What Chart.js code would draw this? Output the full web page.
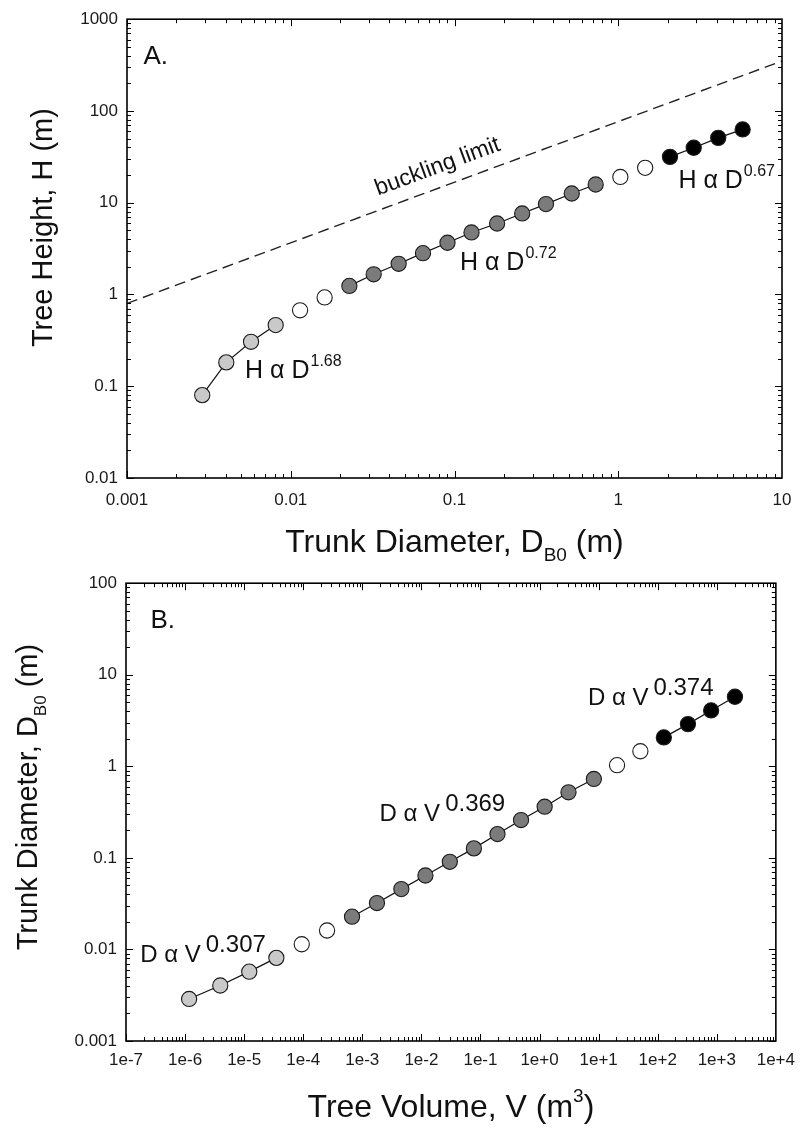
<!DOCTYPE html>
<html>
<head>
<meta charset="utf-8">
<script src="https://cdn.jsdelivr.net/npm/chart.js@4/dist/chart.umd.min.js"></script>
<style>
  html, body { margin: 0; padding: 0; background: #fff; }
  #wrap { position: relative; width: 804px; height: 1128px; }
  .panel { position: absolute; left: 0; width: 804px; height: 564px; }
  #panelA { top: 0; }
  #panelB { top: 564px; }
</style>
</head>
<body>
<div id="wrap">
  <div class="panel" id="panelA"><canvas id="chartA"></canvas></div>
  <div class="panel" id="panelB"><canvas id="chartB"></canvas></div>
</div>
<script>
// Trunk base diameter (m) along the growth trajectory
const diameter = [0.00288, 0.00404, 0.00572, 0.00809, 0.0114, 0.0161, 0.0228, 0.0321,
  0.0456, 0.0642, 0.0906, 0.127, 0.182, 0.259, 0.362, 0.520, 0.728, 1.03, 1.46,
  2.07, 2.89, 4.08, 5.75];
// Tree height (m)
const height = [0.080, 0.182, 0.305, 0.464, 0.672, 0.929, 1.24, 1.66, 2.16, 2.82, 3.66,
  4.74, 5.94, 7.64, 9.66, 12.6, 15.8, 19.1, 24.0, 31.6, 39.7, 50.9, 62.9];
// Tree volume (m^3)
const volume = [1.17e-6, 3.94e-6, 1.22e-5, 3.51e-5, 9.43e-5, 2.53e-4, 6.70e-4, 1.77e-3,
  4.58e-3, 1.17e-2, 3.03e-2, 7.74e-2, 0.194, 0.486, 1.22, 3.09, 8.30, 20.5, 50.9,
  127, 325, 802, 2030];
// Growth stages: [first index, end index), fitted with a line or not
const stages = [
  { from: 0, to: 4, fill: '#c9c9c9', fitted: true },
  { from: 4, to: 6, fill: '#ffffff', fitted: false },
  { from: 6, to: 17, fill: '#7b7b7b', fitted: true },
  { from: 17, to: 19, fill: '#ffffff', fitted: false },
  { from: 19, to: 23, fill: '#000000', fitted: true }
];
// Elastic buckling limit of height against diameter
const bucklingD = [0.001, 10];
const bucklingH = [0.8, 350];

// Axis ranges (decades)
const rangeDiamA = [0.001, 10];
const rangeHeight = [0.01, 1000];
const rangeVolume = [1e-7, 1e4];
const rangeDiamB = [0.001, 100];

const FONT = '"Liberation Sans", Arial, Helvetica, sans-serif';

function decades(min, max) {
  const out = [];
  for (let e = Math.round(Math.log10(min)); e <= Math.round(Math.log10(max)); e++) {
    out.push(Number('1e' + e));
  }
  return out;
}
function plainLabel(v) {
  const e = Math.round(Math.log10(v));
  return e < 0 ? v.toFixed(-e) : String(Math.round(v));
}
function expLabel(v) {
  const e = Math.round(Math.log10(v));
  return '1e' + (e < 0 ? '-' : '+') + Math.abs(e);
}

function drawParts(ctx, parts, x, y, align) {
  const widths = parts.map(p => {
    ctx.font = (p.weight || '') + ' ' + p.size + 'px ' + FONT;
    return ctx.measureText(p.text).width;
  });
  const total = widths.reduce((a, w, i) => a + w + (parts[i].gap || 0), 0);
  let cx = align === 'center' ? x - total / 2 : x;
  parts.forEach((p, i) => {
    ctx.font = (p.weight || '') + ' ' + p.size + 'px ' + FONT;
    cx += (p.gap || 0);
    ctx.fillText(p.text, cx, y + (p.dy || 0));
    cx += widths[i];
  });
}

// Frame, inward major/minor ticks, axis titles and in-plot labels
const decor = {
  id: 'decor',
  afterDatasetsDraw(chart, args, opts) {
    const ctx = chart.ctx;
    const { left, right, top, bottom } = chart.chartArea;
    const sx = chart.scales.x, sy = chart.scales.y;
    ctx.save();
    ctx.strokeStyle = '#000';
    ctx.lineWidth = 1;
    ctx.beginPath();
    const xmin = Math.round(Math.log10(sx.min)), xmax = Math.round(Math.log10(sx.max));
    for (let e = xmin; e < xmax; e++) {
      for (let m = 1; m <= 9; m++) {
        const v = m * Math.pow(10, e);
        const px = Math.round(sx.getPixelForValue(v)) + 0.5;
        const len = m === 1 ? opts.major : opts.minor;
        ctx.moveTo(px, bottom); ctx.lineTo(px, bottom - len);
        ctx.moveTo(px, top); ctx.lineTo(px, top + len);
      }
    }
    const ymin = Math.round(Math.log10(sy.min)), ymax = Math.round(Math.log10(sy.max));
    for (let e = ymin; e < ymax; e++) {
      for (let m = 1; m <= 9; m++) {
        const v = m * Math.pow(10, e);
        const py = Math.round(sy.getPixelForValue(v)) + 0.5;
        const len = m === 1 ? opts.major : opts.minor;
        ctx.moveTo(left, py); ctx.lineTo(left + len, py);
        ctx.moveTo(right, py); ctx.lineTo(right - len, py);
      }
    }
    ctx.stroke();
    ctx.lineWidth = 1.6;
    ctx.strokeRect(left, top, right - left, bottom - top);

    ctx.fillStyle = '#111';
    ctx.textBaseline = 'alphabetic';
    // x title
    drawParts(ctx, opts.xTitle, (left + right) / 2, bottom + opts.xTitleOffset, 'center');
    // y title
    ctx.save();
    ctx.translate(opts.yTitleX, (top + bottom) / 2 + opts.yTitleShift);
    ctx.rotate(-Math.PI / 2);
    drawParts(ctx, opts.yTitle, 0, 0, 'center');
    ctx.restore();
    // labels placed at data coordinates
    (opts.labels || []).forEach(l => {
      const px = sx.getPixelForValue(l.x), py = sy.getPixelForValue(l.y);
      ctx.save();
      ctx.translate(px, py);
      if (l.alongLine !== undefined) {
        const d = chart.data.datasets[l.alongLine];
        const p0 = d.data[0], p1 = d.data[d.data.length - 1];
        const ang = Math.atan2(sy.getPixelForValue(p1.y) - sy.getPixelForValue(p0.y),
                               sx.getPixelForValue(p1.x) - sx.getPixelForValue(p0.x));
        ctx.rotate(ang);
      }
      drawParts(ctx, l.parts, 0, 0, l.align || 'left');
      ctx.restore();
    });
    ctx.restore();
  }
};

function stageDatasets(xs, ys) {
  return stages.map(s => ({
    data: xs.slice(s.from, s.to).map((x, i) => ({ x, y: ys[s.from + i] })),
    showLine: s.fitted,
    borderColor: '#111',
    borderWidth: 1.2,
    pointRadius: 7.6,
    pointHoverRadius: 7.6,
    pointBackgroundColor: s.fill,
    pointBorderColor: '#1a1a1a',
    pointBorderWidth: 1.1
  }));
}

function logAxis(range, labelFn, padding, fitFn) {
  return {
    type: 'logarithmic',
    min: range[0], max: range[1],
    grid: { display: false, drawTicks: false },
    border: { display: false },
    afterBuildTicks: s => { s.ticks = decades(range[0], range[1]).map(v => ({ value: v })); },
    afterFit: fitFn,
    ticks: {
      autoSkip: false, maxRotation: 0, padding: padding,
      color: '#1a1a1a',
      font: { family: FONT, size: 17 },
      callback: v => labelFn(v)
    }
  };
}

const common = {
  responsive: true,
  maintainAspectRatio: false,
  animation: false,
  events: []
};

// Panel A: height against diameter
const dsA = stageDatasets(diameter, height);
dsA.unshift({
  data: bucklingD.map((x, i) => ({ x, y: bucklingH[i] })),
  showLine: true, borderColor: '#222', borderWidth: 1.4, borderDash: [11, 6],
  pointRadius: 0
});
new Chart(document.getElementById('chartA'), {
  type: 'scatter',
  data: { datasets: dsA },
  options: Object.assign({}, common, {
    layout: { padding: { top: 19, right: 22, left: 0, bottom: 0 } },
    scales: {
      x: logAxis(rangeDiamA, plainLabel, 12, s => { s.height = 86; }),
      y: logAxis(rangeHeight, plainLabel, 9, s => { s.width = 127; })
    },
    plugins: {
      legend: { display: false },
      tooltip: { enabled: false },
      decor: {
        major: 7, minor: 4,
        xTitle: [{ text: 'Trunk Diameter, D', size: 32 }, { text: 'B0', size: 19, dy: 9 }, { text: ' (m)', size: 32 }],
        xTitleOffset: 74,
        yTitle: [{ text: 'Tree Height, H (m)', size: 29 }],
        yTitleX: 52, yTitleShift: -21,
        labels: [
          { x: 0.00126, y: 329, parts: [{ text: 'A.', size: 26 }] },
          { x: 0.0813, y: 21.2, align: 'center', alongLine: 0, parts: [{ text: 'buckling limit', size: 23 }] },
          { x: 0.00526, y: 0.123, parts: [{ text: 'H α D', size: 25 }, { text: '1.68', size: 16, dy: -12, gap: 1 }] },
          { x: 0.108, y: 1.87, parts: [{ text: 'H α D', size: 25 }, { text: '0.72', size: 16, dy: -12, gap: 1 }] },
          { x: 2.33, y: 14.5, parts: [{ text: 'H α D', size: 25 }, { text: '0.67', size: 16, dy: -12, gap: 1 }] }
        ]
      }
    }
  }),
  plugins: [decor]
});

// Panel B: diameter against volume
new Chart(document.getElementById('chartB'), {
  type: 'scatter',
  data: { datasets: stageDatasets(volume, diameter) },
  options: Object.assign({}, common, {
    layout: { padding: { top: 16, right: 22, left: 0, bottom: 0 } },
    scales: {
      x: logAxis(rangeVolume, expLabel, 9, s => { s.height = 87; }),
      y: logAxis(rangeDiamB, plainLabel, 9, s => { s.width = 126; })
    },
    plugins: {
      legend: { display: false },
      tooltip: { enabled: false },
      decor: {
        major: 7, minor: 4,
        xTitle: [{ text: 'Tree Volume, V (m', size: 32 }, { text: '3', size: 19, dy: -15 }, { text: ')', size: 32 }],
        xTitleOffset: 76,
        yTitle: [{ text: 'Trunk Diameter, D', size: 29 }, { text: 'B0', size: 17, dy: 9 }, { text: ' (m)', size: 29 }],
        yTitleX: 37, yTitleShift: -15,
        labels: [
          { x: 2.6e-7, y: 32.4, parts: [{ text: 'B.', size: 26 }] },
          { x: 1.74e-7, y: 0.00728, parts: [{ text: 'D α V', size: 24 }, { text: '0.307', size: 24, dy: -10, gap: 5 }] },
          { x: 1.96e-3, y: 0.254, parts: [{ text: 'D α V', size: 24 }, { text: '0.369', size: 24, dy: -10, gap: 5 }] },
          { x: 6.59, y: 4.66, parts: [{ text: 'D α V', size: 24 }, { text: '0.374', size: 24, dy: -10, gap: 5 }] }
        ]
      }
    }
  }),
  plugins: [decor]
});
</script>
</body>
</html>
